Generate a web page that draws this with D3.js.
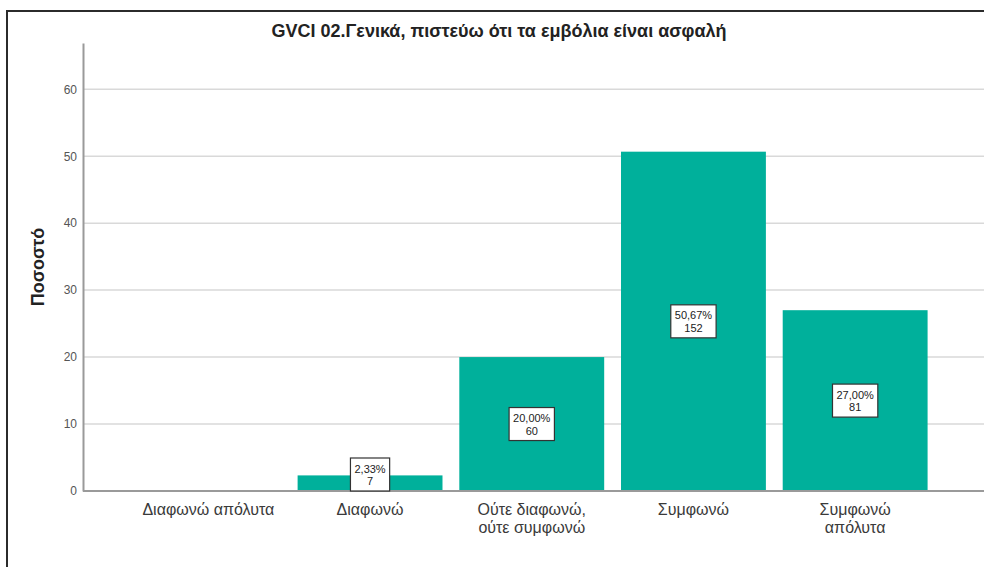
<!DOCTYPE html>
<html>
<head>
<meta charset="utf-8">
<script src="https://cdn.jsdelivr.net/npm/d3@7"></script>
<style>
  body { margin: 0; background: #fff; }
  svg { display: block; font-family: "Liberation Sans", Arial, sans-serif; }
</style>
</head>
<body>
<div id="chart"></div>
<script>
const categories = ['Διαφωνώ απόλυτα', 'Διαφωνώ', 'Ούτε διαφωνώ, ούτε συμφωνώ', 'Συμφωνώ', 'Συμφωνώ απόλυτα'];
const categoryLines = [['Διαφωνώ απόλυτα'], ['Διαφωνώ'], ['Ούτε διαφωνώ,', 'ούτε συμφωνώ'], ['Συμφωνώ'], ['Συμφωνώ', 'απόλυτα']];
const percents = [0, 2.33, 20.00, 50.67, 27.00];
const counts = [0, 7, 60, 152, 81];
const yTicks = [0, 10, 20, 30, 40, 50, 60];

const width = 984, height = 567;
const svg = d3.select('#chart').append('svg')
    .attr('width', width)
    .attr('height', height);

// outer frame
svg.append('path')
    .attr('d', `M7,${height} L7,11 L${width},11`)
    .attr('fill', 'none')
    .attr('stroke', '#2b2b2b')
    .attr('stroke-width', 2);

const axisX = 83;
const y = d3.scaleLinear().domain([0, 66.9]).range([491, 43]);
const x = d3.scaleBand().domain(categories).range([127.5, 936]).paddingInner(0.104).paddingOuter(0.052);

// gridlines
svg.append('g').selectAll('line')
    .data(yTicks.filter(d => d > 0))
    .enter().append('line')
    .attr('x1', axisX).attr('x2', width)
    .attr('y1', d => y(d)).attr('y2', d => y(d))
    .attr('stroke', '#d9d9d9')
    .attr('stroke-width', 1.5);

// bars
const data = categories.map((c, i) => ({ c, p: percents[i], n: counts[i] }));
svg.append('g').selectAll('rect')
    .data(data.filter(d => d.p > 0))
    .enter().append('rect')
    .attr('x', d => x(d.c))
    .attr('width', x.bandwidth())
    .attr('y', d => y(d.p))
    .attr('height', d => y(0) - y(d.p))
    .attr('fill', '#00b09b');

// y axis
const yAxis = d3.axisLeft(y).tickValues(yTicks).tickSize(0).tickPadding(6);
const yg = svg.append('g')
    .attr('transform', `translate(${axisX},0)`)
    .call(yAxis);
yg.select('.domain').attr('stroke', '#9a9a9a').attr('stroke-width', 2);
yg.selectAll('text').attr('font-size', 12).attr('fill', '#555')
    .attr('font-family', '"Liberation Sans", Arial, sans-serif');

// baseline
svg.append('line')
    .attr('x1', axisX).attr('x2', width)
    .attr('y1', y(0)).attr('y2', y(0))
    .attr('stroke', '#9a9a9a').attr('stroke-width', 2);

// category labels
const xl = svg.append('g').selectAll('text')
    .data(categories)
    .enter().append('text')
    .attr('x', d => x(d) + x.bandwidth() / 2)
    .attr('y', 515)
    .attr('text-anchor', 'middle')
    .attr('font-size', 16)
    .attr('fill', '#3a3a3a');
xl.each(function(d, i) {
    const t = d3.select(this);
    categoryLines[i].forEach((ln, j) => {
        t.append('tspan').attr('x', x(d) + x.bandwidth() / 2).attr('dy', j === 0 ? 0 : 18).text(ln);
    });
});

// value labels
const fmt = v => v.toFixed(2).replace('.', ',') + '%';
const boxH = 33;
const lbl = svg.append('g').selectAll('g')
    .data(data.filter(d => d.p > 0))
    .enter().append('g')
    .attr('transform', d => {
        let cy = (y(d.p) + y(0)) / 2;
        if (cy + boxH / 2 > y(0)) cy = y(0) - boxH / 2;
        return `translate(${x(d.c) + x.bandwidth() / 2},${cy})`;
    });
lbl.append('rect')
    .attr('y', -boxH / 2)
    .attr('height', boxH)
    .attr('fill', '#fff')
    .attr('stroke', '#333')
    .attr('stroke-width', 1.2);
const vt = lbl.append('text')
    .attr('text-anchor', 'middle')
    .attr('y', -2)
    .attr('font-size', 11)
    .attr('fill', '#222');
vt.append('tspan').attr('class', 'pct').attr('x', 0).text(d => fmt(d.p));
vt.append('tspan').attr('x', 0).attr('dy', 12.5).text(d => d.n);
lbl.each(function() {
    const g = d3.select(this);
    const w = g.select('.pct').node().getComputedTextLength() + 8;
    g.select('rect').attr('x', -w / 2).attr('width', w);
});

// title
svg.append('text')
    .attr('x', 499).attr('y', 37)
    .attr('text-anchor', 'middle')
    .attr('font-size', 18)
    .attr('font-weight', 'bold')
    .attr('fill', '#222')
    .text('GVCI 02.Γενικά, πιστεύω ότι τα εμβόλια είναι ασφαλή');

// y label
svg.append('text')
    .attr('transform', 'translate(44,267) rotate(-90)')
    .attr('text-anchor', 'middle')
    .attr('font-size', 18)
    .attr('font-weight', 'bold')
    .attr('fill', '#222')
    .text('Ποσοστό');
</script>
</body>
</html>
